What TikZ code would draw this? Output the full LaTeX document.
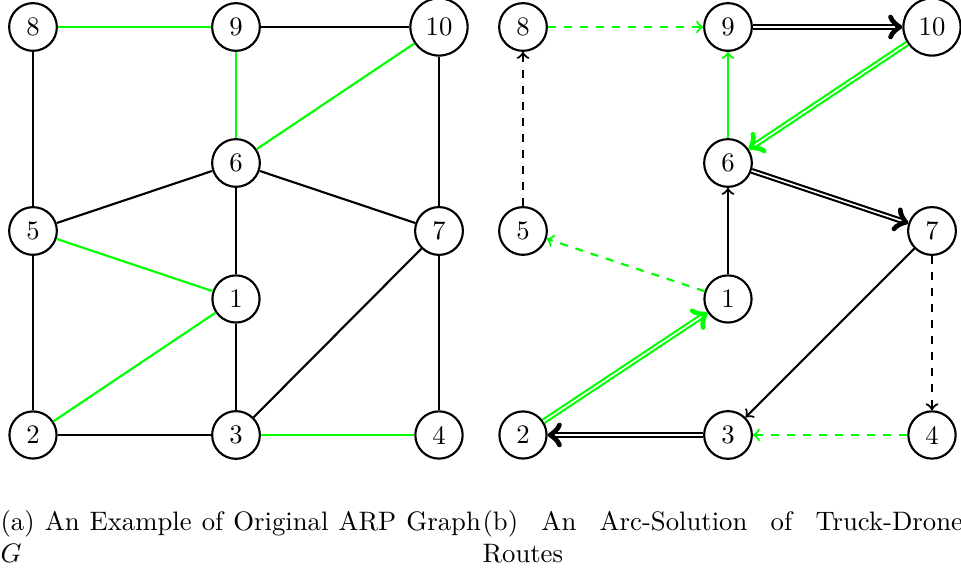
\documentclass[tikz,border=0pt]{standalone}
\begin{document}
\begin{tikzpicture}[x=0.3747pt,y=-0.3747pt,
  vertex/.style={circle,draw,thick,minimum size=0.6cm,inner sep=0.3333em},
  edge/.style={thick},
  route/.style={thick,double,->},
  caption/.style={anchor=north west,text width=180pt,align=justify,inner sep=0pt}]
\useasboundingbox (0,0) rectangle (961,572);

% ---- (a) original ARP graph
\begin{scope}
\node[vertex] (a8)  at (33,27)   {8};
\node[vertex] (a9)  at (236,27)  {9};
\node[vertex] (a10) at (439,27)  {10};
\node[vertex] (a6)  at (236,163) {6};
\node[vertex] (a5)  at (33,231)  {5};
\node[vertex] (a7)  at (439,231) {7};
\node[vertex] (a1)  at (236,299) {1};
\node[vertex] (a2)  at (33,435)  {2};
\node[vertex] (a3)  at (236,435) {3};
\node[vertex] (a4)  at (439,435) {4};
\draw[edge] (a8) -- (a5);
\draw[edge] (a5) -- (a2);
\draw[edge] (a2) -- (a3);
\draw[edge] (a9) -- (a10);
\draw[edge] (a10) -- (a7);
\draw[edge] (a7) -- (a4);
\draw[edge] (a6) -- (a5);
\draw[edge] (a6) -- (a7);
\draw[edge] (a6) -- (a1);
\draw[edge] (a1) -- (a3);
\draw[edge] (a3) -- (a7);
\draw[edge,green] (a8) -- (a9);
\draw[edge,green] (a9) -- (a6);
\draw[edge,green] (a6) -- (a10);
\draw[edge,green] (a5) -- (a1);
\draw[edge,green] (a2) -- (a1);
\draw[edge,green] (a3) -- (a4);
\end{scope}

% ---- (b) truck-drone arc solution
\begin{scope}
\node[vertex] (b8)  at (523,27)  {8};
\node[vertex] (b9)  at (728,27)  {9};
\node[vertex] (b10) at (932,27)  {10};
\node[vertex] (b6)  at (728,163) {6};
\node[vertex] (b5)  at (523,231) {5};
\node[vertex] (b7)  at (932,231) {7};
\node[vertex] (b1)  at (728,299) {1};
\node[vertex] (b2)  at (523,435) {2};
\node[vertex] (b3)  at (728,435) {3};
\node[vertex] (b4)  at (932,435) {4};
\draw[edge,->,green,dashed] (b8) -- (b9);
\draw[route] (b9) -- (b10);
\draw[route,green] (b10) -- (b6);
\draw[edge,->,green] (b6) -- (b9);
\draw[route] (b6) -- (b7);
\draw[edge,->] (b1) -- (b6);
\draw[edge,->,green,dashed] (b1) -- (b5);
\draw[edge,->,dashed] (b5) -- (b8);
\draw[route,green] (b2) -- (b1);
\draw[route] (b3) -- (b2);
\draw[edge,->] (b7) -- (b3);
\draw[edge,->,dashed] (b7) -- (b4);
\draw[edge,->,green,dashed] (b4) -- (b3);
\end{scope}

% ---- sub-captions
\node[caption] (capa) at (0,510) {(a) An Example of Original ARP Graph $G$};
\node[caption] (capb) at (482,510) {(b) An Arc-Solution of Truck-Drone Routes};
\end{tikzpicture}
\end{document}
